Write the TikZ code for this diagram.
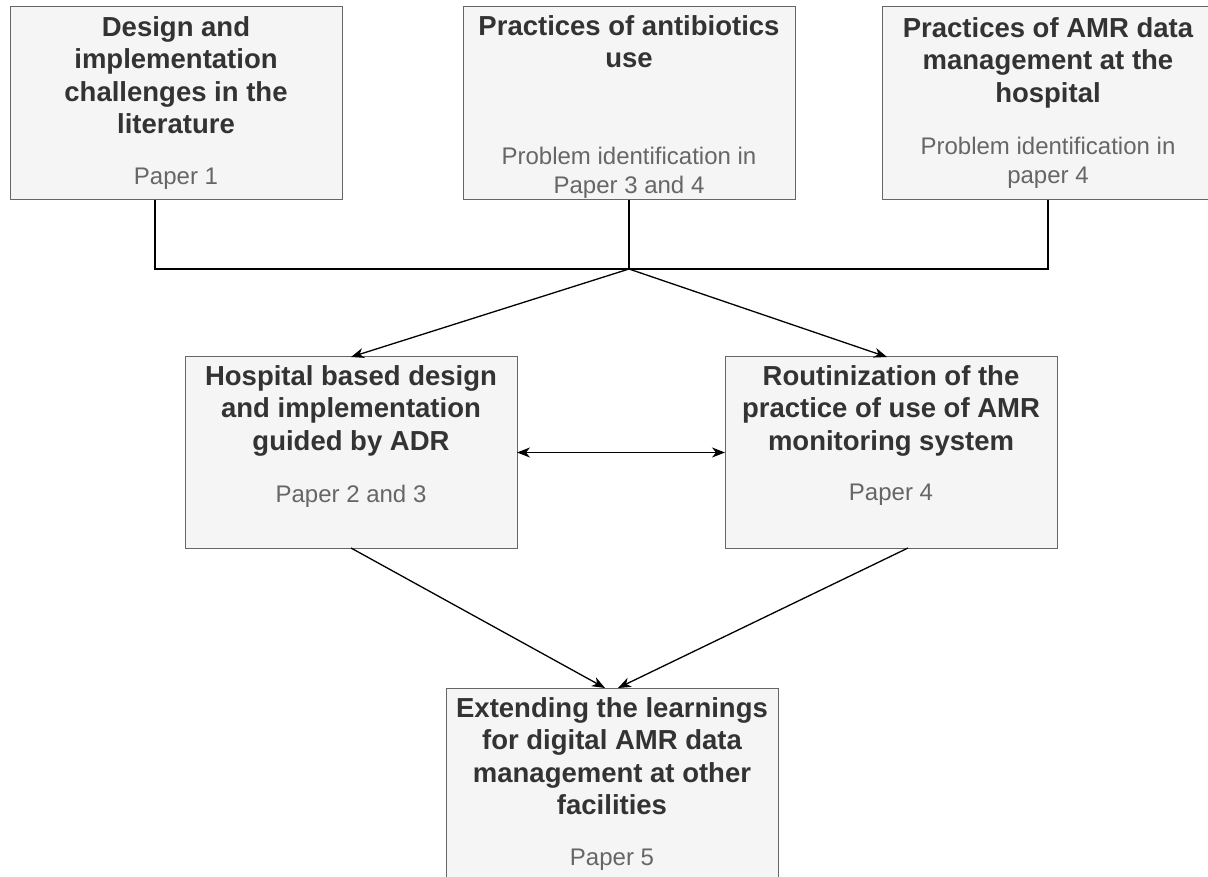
\documentclass[tikz,border=0pt]{standalone}
\usepackage{fontspec}
\setmainfont{Liberation Sans}
\usetikzlibrary{arrows.meta}
\definecolor{boxfill}{HTML}{F5F5F5}
\definecolor{boxline}{HTML}{666666}
\definecolor{titlegray}{HTML}{333333}
\definecolor{notegray}{HTML}{666666}
\begin{document}
\begin{tikzpicture}[x=1pt,y=-1pt,
  card/.style={draw=boxline, fill=boxfill, line width=1pt, minimum width=332pt,
    minimum height=193pt, inner sep=0pt, outer sep=0pt},
  title/.style={anchor=north, align=center, inner sep=0pt, text=titlegray,
    font=\fontsize{27.5}{32.5}\selectfont\bfseries},
  note/.style={anchor=north, align=center, inner sep=0pt, text=notegray,
    font=\fontsize{24}{29}\selectfont},
  link/.style={draw=black, line width=1.3pt},
  tip/.tip={Stealth[length=13pt,width=10pt,inset=4pt]},
  arr/.style={link, -tip},
  dbl/.style={link, tip-tip},
]
\useasboundingbox (0,0) rectangle (1208,877);
\clip (0,0) rectangle (1208,877);
\fill[white] (0,0) rectangle (1208,877);

% top row: sources of problems
\node[card] (b1) at (176,103.5) {};
\node[card] (b2) at (629,103.5) {};
\node[card] (b3) at (1048,103.5) {};
\node[title] (t1) at (176,16) {Design and\\implementation\\challenges in the\\literature};
\node[note] (n1) at (176,168) {Paper 1};
\node[title] (t2) at (629,15) {Practices of antibiotics\\use};
\node[note] (n2) at (629,147) {Problem identification in\\Paper 3 and 4};
\node[title] (t3) at (1048,17) {Practices of AMR data\\management at the\\hospital};
\node[note] (n3) at (1048,137) {Problem identification in\\paper 4};

% middle row
\node[card, minimum height=191pt] (b4) at (351,452.5) {};
\node[card, minimum height=191pt] (b5) at (891,452.5) {};
\node[title] (t4) at (351,365) {Hospital based design\\and implementation\\guided by ADR};
\node[note] (n4) at (351,485) {Paper 2 and 3};
\node[title] (t5) at (891,365) {Routinization of the\\practice of use of AMR\\monitoring system};
\node[note] (n5) at (891,484) {Paper 4};

% bottom box
\node[card, minimum height=200pt] (b6) at (612,788) {};
\node[title] (t6) at (612,697) {Extending the learnings\\for digital AMR data\\management at other\\facilities};
\node[note] (n6) at (612,849) {Paper 5};

% connectors
\coordinate (j) at (629,269);
\draw[link] ([xshift=-21pt]b1.south) |- (j) -| (b3.south);
\draw[link] (b2.south) -- (j);
\draw[arr] (j) -- (b4.north);
\draw[arr] (j) -- ([xshift=-4pt]b5.north);
\draw[dbl] (b4.east) -- (b5.west);
\draw[arr] (b4.south) -- ([xshift=-7pt]b6.north);
\draw[arr] ([xshift=17pt]b5.south) -- ([xshift=6pt]b6.north);
\end{tikzpicture}
\end{document}
